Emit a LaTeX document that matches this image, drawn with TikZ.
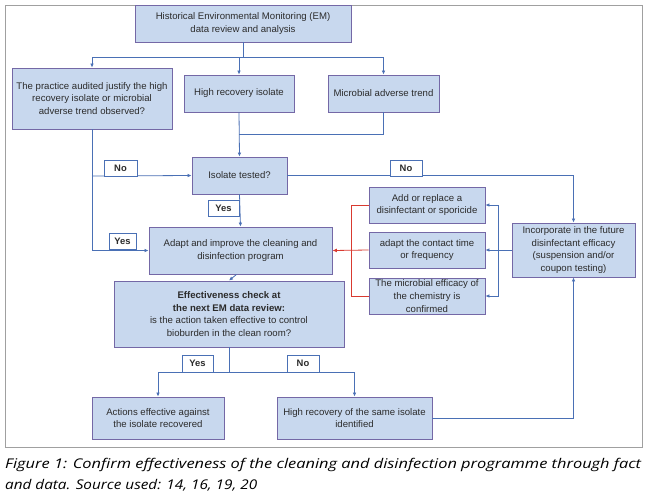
\documentclass[tikz,border=0pt]{standalone}
\usepackage{fontspec}
\setmainfont{Liberation Sans}
\newfontfamily\capfont{Open Sans}
\usetikzlibrary{arrows.meta}
\definecolor{boxfill}{HTML}{C8D8EE}
\definecolor{boxdraw}{HTML}{7468A6}
\definecolor{linec}{HTML}{4A70B5}
\definecolor{redc}{HTML}{D93A30}
\definecolor{txt}{HTML}{2B2B2B}
\definecolor{capc}{HTML}{3A3A3A}
\definecolor{framec}{HTML}{A0A0A0}
\newcommand\capstyle{\capfont\itshape\fontsize{13.4}{16}\selectfont}
\newsavebox\capboxA
\newsavebox\capboxB
\sbox\capboxA{\capstyle Figure 1: Confirm effectiveness of the cleaning and disinfection programme through fact}
\sbox\capboxB{\capstyle and data. Source used: 14, 16, 19, 20}
\begin{document}
\begin{tikzpicture}[x=1pt,y=-1pt,
  box/.style={draw=boxdraw, fill=boxfill, line width=0.9pt, inner sep=0pt, align=center,
    font=\fontsize{9.6}{12.7}\selectfont, text=txt},
  lbl/.style={draw=linec, fill=white, line width=0.9pt, inner sep=0pt,
    font=\bfseries\fontsize{9.4}{11}\selectfont, text=txt},
  ln/.style={draw=linec, line width=0.8pt},
  con/.style={ln, -{Latex[length=4pt,width=3.6pt]}},
  rln/.style={draw=redc, line width=0.8pt},
  rcon/.style={rln, -{Latex[length=4.5pt,width=4pt]}},
  captext/.style={anchor=base west, inner sep=0pt, text=capc}]
\useasboundingbox (0,0) rectangle (650,496);
\fill[white] (0,0) rectangle (650,496);
\draw[framec, line width=0.9pt] (5,5) rectangle (642,447);

% boxes
\node[box, minimum width=216pt, minimum height=37pt] (hist) at (243,23.5) {Historical Environmental Monitoring (EM)\\data review and analysis};
\node[box, minimum width=160pt, minimum height=61pt] (prac) at (92,98.5) {The practice audited justify the high\\recovery isolate or microbial\\adverse trend observed?};
\node[box, minimum width=110pt, minimum height=37pt] (hri) at (239,93.5) {High recovery isolate};
\node[box, minimum width=111pt, minimum height=37pt] (mat) at (383.5,93.5) {Microbial adverse trend};
\node[box, minimum width=95pt, minimum height=37pt] (iso) at (239.5,175.5) {Isolate tested?};
\node[box, minimum width=183pt, minimum height=47pt] (adapt) at (240.5,250.5) {Adapt and improve the cleaning and\\disinfection program};
\node[box, minimum width=230pt, minimum height=66pt] (eff) at (229,314) {\textbf{Effectiveness check at}\\\textbf{the next EM data review:}\\is the action taken effective to control\\bioburden in the clean room?};
\node[box, minimum width=116pt, minimum height=36pt] (add) at (427,205) {Add or replace a\\disinfectant or sporicide};
\node[box, minimum width=116pt, minimum height=36pt] (cont) at (427,250) {adapt the contact time\\or frequency};
\node[box, minimum width=116pt, minimum height=36pt] (conf) at (427,296) {The microbial efficacy of\\the chemistry is\\confirmed};
\node[box, minimum width=123pt, minimum height=54pt] (inc) at (573.5,250) {Incorporate in the future\\disinfectant efficacy\\(suspension and/or\\coupon testing)};
\node[box, minimum width=132pt, minimum height=42pt] (act) at (158,418) {Actions effective against\\the isolate recovered};
\node[box, minimum width=155pt, minimum height=42pt] (same) at (354.5,418) {High recovery of the same isolate\\identified};

% junctions
\coordinate (j1) at (239,57);
\coordinate (j2) at (239,134);
\coordinate (j3) at (92,176);
\coordinate (bj) at (498,250);
\coordinate (rj) at (351,250);
\coordinate (j4) at (229,372);

% connectors
\draw[ln] (hist.south) |- (j1);
\draw[con] (j1) -| (prac.north);
\draw[con] (j1) -- (hri.north);
\draw[con] (j1) -| (mat.north);
\draw[con] (hri.south) -- (iso.north);
\draw[ln] (mat.south) |- (j2);
\draw[con] (prac.south) |- (adapt.west);
\draw[con] (j3) -- (iso.west);
\draw[con] (iso.south) -- (adapt.north);
\draw[con] (iso.east) -| (inc.north);
\draw[con] ([xshift=-4pt]adapt.south) -- (eff.north);
\draw[con] (inc.west) -- (cont.east);
\draw[con] (bj) |- (add.east);
\draw[con] (bj) |- (conf.east);
\draw[rln] (add.west) -| (rj);
\draw[rln] (conf.west) -| (rj);
\draw[rcon] (cont.west) -- (adapt.east);
\draw[ln] (eff.south) -- (j4);
\draw[con] (j4) -| (act.north);
\draw[con] (j4) -| (same.north);
\draw[con] (same.east) -| (inc.south);

% labels
\node[lbl, minimum width=33pt, minimum height=16pt] (no1) at (120.5,168) {No};
\node[lbl, minimum width=27pt, minimum height=16pt] (yes1) at (122.5,241) {Yes};
\node[lbl, minimum width=31pt, minimum height=16pt] (yes2) at (223.5,208) {Yes};
\node[lbl, minimum width=32pt, minimum height=16pt] (no2) at (406,168) {No};
\node[lbl, minimum width=31pt, minimum height=17pt] (yes3) at (197.5,363.5) {Yes};
\node[lbl, minimum width=32pt, minimum height=17pt] (no3) at (303,363.5) {No};

% caption
\pgfmathsetmacro\capsa{636/\the\wd\capboxA}
\pgfmathsetmacro\capsb{252/\the\wd\capboxB}
\node[captext] (cap1) at (5,468) {\scalebox{\capsa}[1]{\usebox\capboxA}};
\node[captext] (cap2) at (5,489) {\scalebox{\capsb}[1]{\usebox\capboxB}};
\end{tikzpicture}
\end{document}
